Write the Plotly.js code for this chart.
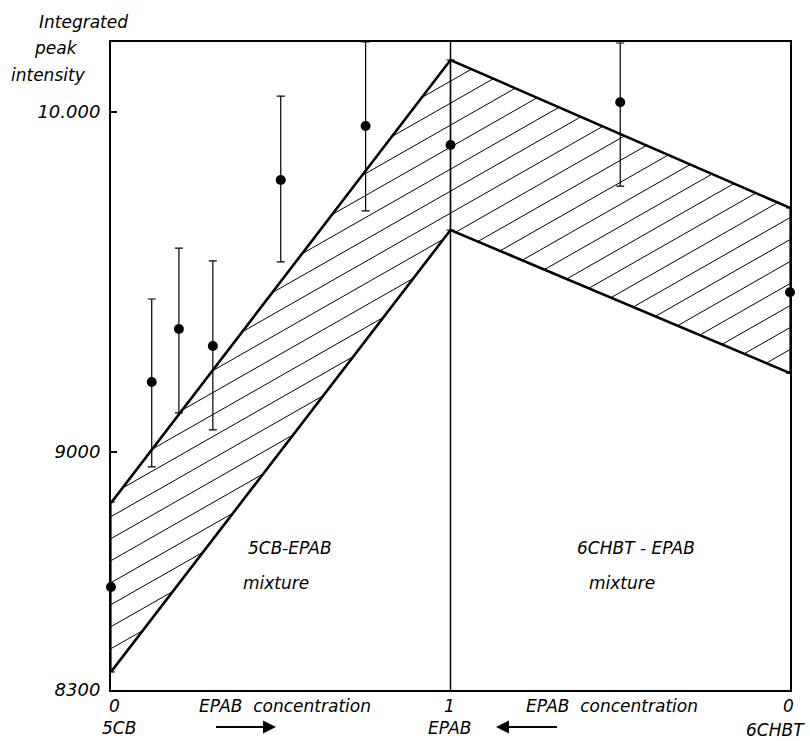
<!DOCTYPE html>
<html><head><meta charset="utf-8">
<script src="https://cdn.plot.ly/plotly-3.0.1.min.js"></script>
<style>html,body{margin:0;padding:0;background:#fff}</style>
</head><body><div id="chart" style="width:810px;height:741px"></div>
<script>
// Left section: 5CB-EPAB mixture (EPAB concentration 0 -> 1)
const leftConc = [0, 0.12, 0.2, 0.3, 0.5, 0.75, 1];
const leftIntensity = [8603, 9206, 9362, 9312, 9800, 9959, 9903];
const leftErrPlus = [250, 244, 238, 250, 247, 247, 250];
const leftErrMinus = [250, 250, 247, 247, 241, 250, 250];
// Right section: 6CHBT-EPAB mixture (EPAB concentration 1 -> 0)
const rightConc = [0.5, 0];
const rightIntensity = [10029, 9470];
const rightErrPlus = [174, 248];
const rightErrMinus = [247, 238];
// Hatched band (axis positions: 0 = 5CB, 1 = EPAB, 2 = 6CHBT)
const bandPos = [0, 1, 2];
const bandUpper = [8850, 10153, 9718];
const bandLower = [8353, 9653, 9232];
// Axis ticks
const yTickVals = [8300, 9000, 10000];
const yTickText = ['8300', '9000', '10.000'];

const Y_RANGE = [8300, 10206];
const W = 810, H = 741, M = {l: 111, r: 20, t: 42, b: 51};
const plotW = W - M.l - M.r, plotH = H - M.t - M.b;
const pxPerX = plotW / 2, pxPerY = plotH / (Y_RANGE[1] - Y_RANGE[0]);

const rightPos = rightConc.map(c => 2 - c);

// Hatching of the band, computed from the band edges
const hatchSlopePx = 0.57, hatchGapPx = 22;
const m = hatchSlopePx * pxPerX / pxPerY;
const dk = hatchGapPx / pxPerY;
const kRef = 8815 - m * 0.009;
const hx = [], hy = [];
for (let i = 0; i < bandPos.length - 1; i++) {
  const xa = bandPos[i], xb = bandPos[i + 1];
  const su = (bandUpper[i + 1] - bandUpper[i]) / (xb - xa);
  const sl = (bandLower[i + 1] - bandLower[i]) / (xb - xa);
  const kmin = Math.min(bandLower[i] - m * xa, bandLower[i + 1] - m * xb);
  const kmax = Math.max(bandUpper[i] - m * xa, bandUpper[i + 1] - m * xb);
  const n0 = Math.ceil((kmin - kRef) / dk), n1 = Math.floor((kmax - kRef) / dk);
  for (let n = n0; n <= n1; n++) {
    const k = kRef + n * dk;
    let lo = xa, hi = xb, empty = false;
    const clip = (a, b) => { // a*x >= b
      if (a > 1e-9) lo = Math.max(lo, b / a);
      else if (a < -1e-9) hi = Math.min(hi, b / a);
      else if (b > 0) empty = true;
    };
    clip(m - sl, bandLower[i] - sl * xa - k);
    clip(su - m, k - bandUpper[i] + su * xa);
    if (!empty && hi - lo > 0.004) {
      hx.push(lo, hi, null);
      hy.push(k + m * lo, k + m * hi, null);
    }
  }
}

const traces = [
  {x: hx, y: hy, mode: 'lines', line: {color: '#000', width: 1}, hoverinfo: 'skip', connectgaps: false},
  {x: bandPos, y: bandUpper, mode: 'lines', line: {color: '#000', width: 2.6}},
  {x: bandPos, y: bandLower, mode: 'lines', line: {color: '#000', width: 2.6}},
  {x: leftConc, y: leftIntensity, mode: 'markers', cliponaxis: false,
   marker: {color: '#000', size: 10},
   error_y: {type: 'data', symmetric: false, array: leftErrPlus, arrayminus: leftErrMinus, color: '#000', thickness: 1.2, width: 4}},
  {x: rightPos, y: rightIntensity, mode: 'markers', cliponaxis: false,
   marker: {color: '#000', size: 10},
   error_y: {type: 'data', symmetric: false, array: rightErrPlus, arrayminus: rightErrMinus, color: '#000', thickness: 1.2, width: 4}}
];

const px = v => (v - M.l) / plotW;
const py = v => (H - M.b - v) / plotH;
const txt = (s, x, y, opts) => Object.assign({text: '<i>' + s + '</i>', xref: 'paper', yref: 'paper', x: px(x), y: py(y), showarrow: false, xanchor: 'center', yanchor: 'middle'}, opts || {});
// arrow: shaft as a shape, head as a short annotation arrow
const arrowHead = (headX, dir, y) => ({text: '', xref: 'paper', yref: 'paper', x: px(headX), y: py(y),
  ax: -dir * 14, ay: 0, showarrow: true, arrowhead: 2, arrowsize: 1.3, arrowwidth: 2, arrowcolor: '#000'});
const shaft = (x0, x1, y) => ({type: 'line', xref: 'paper', yref: 'paper', x0: px(x0), x1: px(x1), y0: py(y), y1: py(y), line: {color: '#000', width: 2}});

const annotations = [
  txt('Integrated', 37, 22, {xanchor: 'left'}),
  txt('peak', 32, 48, {xanchor: 'left'}),
  txt('intensity', 9, 75, {xanchor: 'left'}),
  txt('0', 114, 706),
  txt('5CB', 119, 728),
  txt('EPAB  concentration', 285, 706),
  txt('1', 449, 706),
  txt('EPAB', 449, 728),
  txt('EPAB  concentration', 612, 706),
  txt('0', 788, 706),
  txt('6CHBT', 807, 730, {xanchor: 'right'}),
  txt('5CB-EPAB', 290, 548),
  txt('mixture', 276, 583),
  txt('6CHBT - EPAB', 636, 548),
  txt('mixture', 622, 583),
  arrowHead(276, 1, 727),
  arrowHead(496, -1, 727)
];

const layout = {
  width: W, height: H, margin: M,
  paper_bgcolor: '#fff', plot_bgcolor: '#fff', showlegend: false,
  font: {family: 'DejaVu Sans', size: 17, color: '#000'},
  xaxis: {range: [0, 2], showgrid: false, zeroline: false, showline: true, linewidth: 2, linecolor: '#000', mirror: true, ticks: '', showticklabels: false, fixedrange: true},
  yaxis: {range: Y_RANGE, showgrid: false, zeroline: false, showline: true, linewidth: 2, linecolor: '#000', mirror: true,
    ticks: 'inside', ticklen: 6, tickwidth: 1.5, tickcolor: '#000',
    tickfont: {size: 18},
    tickvals: yTickVals, ticktext: yTickText.map(t => '<i>' + t + '</i>'), ticklabelstandoff: 5, fixedrange: true},
  shapes: [
    {type: 'line', xref: 'x', yref: 'paper', x0: bandPos[1], x1: bandPos[1], y0: 0, y1: 1, line: {color: '#000', width: 1.5}},
    shaft(216, 268, 727),
    shaft(504, 557, 727)
  ],
  annotations: annotations
};

Plotly.newPlot('chart', traces, layout, {staticPlot: true, displayModeBar: false});
</script></body></html>
